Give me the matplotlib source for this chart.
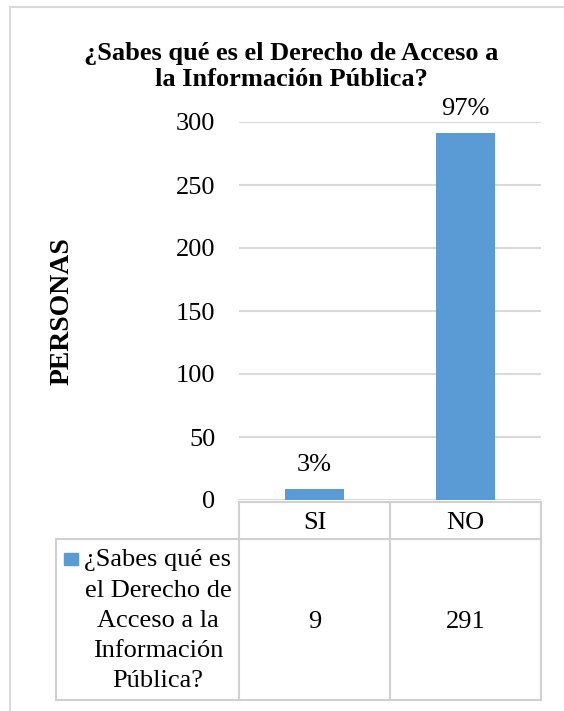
import matplotlib
matplotlib.use("Agg")
import matplotlib.pyplot as plt
from matplotlib.patches import Rectangle
from matplotlib.lines import Line2D

# ---- data ----
categories = ["SI", "NO"]
values = [9, 291]
pct_labels = ["3%", "97%"]
series_lines = ["¿Sabes qué es", "el Derecho de", "Acceso a la", "Información", "Pública?"]
title_lines = ["¿Sabes qué es el Derecho de Acceso a", "la Información Pública?"]
ylabel = "PERSONAS"
yticks = [0, 50, 100, 150, 200, 250, 300]

W, H = 564, 711
plt.rcParams['font.family'] = ['Liberation Serif', 'DejaVu Serif']
fig = plt.figure(figsize=(W / 100, H / 100), dpi=100)

def fx(px):
    return px / W

def fy(py):
    return 1 - py / H

FS = 19
bar_color = "#5b9bd5"
grid_color = "#d9d9d9"
tbl_color = "#d0d0d0"

# outer frame
fig.add_artist(Line2D([fx(10), fx(10)], [fy(7), fy(720)], color=grid_color, lw=1.5, transform=fig.transFigure))
fig.add_artist(Line2D([fx(10), fx(570)], [fy(7), fy(7)], color=grid_color, lw=1.5, transform=fig.transFigure))

L, R, T, B = 239, 541, 122, 500
ax = fig.add_axes([fx(L), fy(B), fx(R - L), (B - T) / H])
x = list(range(len(categories)))
ax.bar(x, values, width=0.39, color=bar_color, zorder=3)
ax.set_xlim(-0.5, len(categories) - 0.5)
ax.set_ylim(0, 300)
ax.set_yticks(yticks)
ax.set_yticklabels([str(v) for v in yticks], fontsize=FS)
ax.tick_params(axis='y', length=0, pad=17)
ax.set_xticks([])
ax.grid(axis='y', color=grid_color, lw=1.5, zorder=0)
for s in ax.spines.values():
    s.set_visible(False)

for xi, v, lab in zip(x, values, pct_labels):
    ax.annotate(lab, (xi, v), xytext=(0, 13), textcoords='offset points',
                ha='center', va='baseline', fontsize=FS)

ax.text((62 - L) / (R - L), 0.5, ylabel, transform=ax.transAxes, rotation=90,
        ha='center', va='center', fontsize=20, fontweight='bold')

for ln, yb in zip(title_lines, [60, 86]):
    fig.text(fx(291), fy(yb), ln, ha='center', va='baseline', fontsize=FS,
             fontweight='bold')

# ---- data table ----
tT, tM, tB = 502, 539, 700
tblL = 56

def xpix(d):
    return L + (d + 0.5) / len(categories) * (R - L)

lw = 1.5
lines = [
    ([xpix(-0.5), xpix(1.5)], [tT, tT]),
    ([tblL, xpix(1.5)], [tM, tM]),
    ([tblL, xpix(1.5)], [tB, tB]),
    ([tblL, tblL], [tM, tB]),
]
for d in [-0.5, 0.5, 1.5]:
    lines.append(([xpix(d), xpix(d)], [tT, tB]))
for xs, ys in lines:
    fig.add_artist(Line2D([fx(v) for v in xs], [fy(v) for v in ys], color=tbl_color,
                          lw=lw, transform=fig.transFigure))

for xi, cat, v in zip(x, categories, values):
    fig.text(fx(xpix(xi)), fy(529), cat, ha='center', va='baseline', fontsize=FS)
    fig.text(fx(xpix(xi)), fy(628), str(v), ha='center', va='baseline', fontsize=FS)

fig.add_artist(Rectangle((fx(64), fy(565)), fx(14), 12 / H, color=bar_color,
                         transform=fig.transFigure))
line_y = [566, 597, 627, 657, 687]
for i, (ln, yy) in enumerate(zip(series_lines, line_y)):
    cx = 158 if i > 0 else 157
    fig.text(fx(cx), fy(yy), ln, ha='center', va='baseline', fontsize=FS)

fig.savefig("out.png", dpi=100)
